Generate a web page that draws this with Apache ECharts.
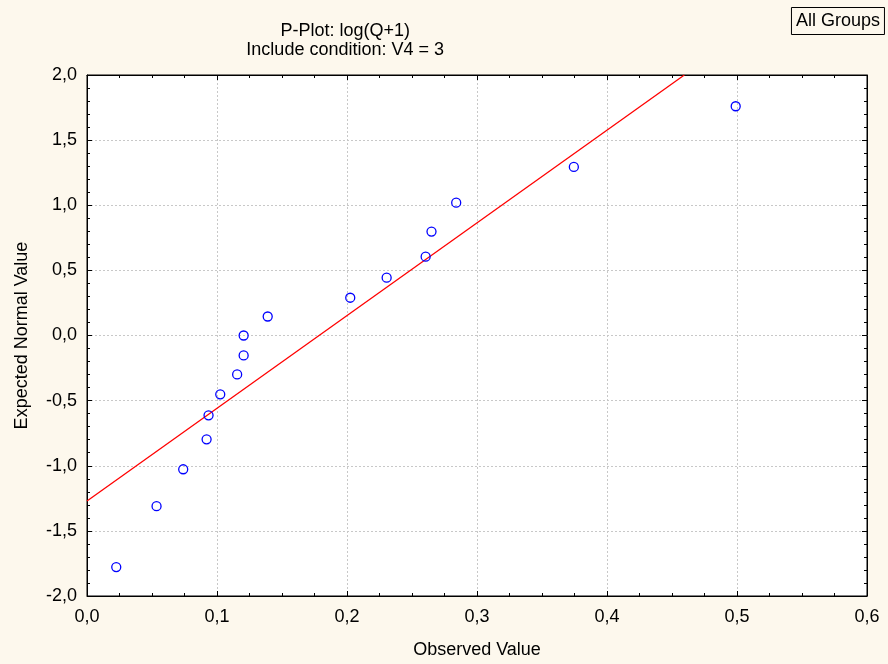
<!DOCTYPE html>
<html>
<head>
<meta charset="utf-8">
<script src="https://cdn.jsdelivr.net/npm/echarts@6/dist/echarts.min.js"></script>
<style>
html,body{margin:0;padding:0;background:#fdf8ed;}
#chart{width:888px;height:664px;}
</style>
</head>
<body>
<div id="chart"></div>
<script>
// Observed values (x) and expected normal values (y)
var observed = [0.0225, 0.0535, 0.074, 0.092, 0.0935, 0.1025, 0.1155, 0.1205, 0.1205, 0.1390, 0.2025, 0.2305, 0.2605, 0.2650, 0.2840, 0.3745, 0.4990];
var expected = [-1.778, -1.310, -1.027, -0.797, -0.613, -0.452, -0.299, -0.153, 0.000, 0.146, 0.290, 0.444, 0.605, 0.798, 1.020, 1.294, 1.760];
// Fitted reference line endpoints
var fitX = [0.0, 0.4595];
var fitY = [-1.27, 2.0];
// Axis tick settings
var xTicks = {min: 0, max: 0.6, interval: 0.1};
var yTicks = {min: -2, max: 2, interval: 0.5};

var font = 'Liberation Sans, Arial, sans-serif';
var fs = 18;
function fmt(v){ return v.toFixed(1).replace('.', ','); }

var chart = echarts.init(document.getElementById('chart'), null, {renderer: 'canvas'});
var tickCommon = {show: true, inside: true, length: 5, lineStyle: {color: '#000', width: 1}};
var minorCommon = {show: true, length: 3, lineStyle: {color: '#000', width: 1}};
var split = {show: true, lineStyle: {color: '#c8c8c8', type: [2, 2], width: 1}};
var axLine = {show: true, onZero: false, lineStyle: {color: '#000', width: 1}};

chart.setOption({
  backgroundColor: '#fdf8ed',
  animation: false,
  title: [
    {text: 'P-Plot: log(Q+1)\nInclude condition: V4 = 3', left: 'center', top: 17,
     textAlign: 'center',
     textStyle: {fontFamily: font, fontSize: fs, fontWeight: 'normal', color: '#000', lineHeight: 19}},
    {text: 'All Groups', right: 3, top: 7, borderColor: '#000', borderWidth: 1, padding: [5, 5, 4, 5],
     backgroundColor: '#fdf8ed',
     textStyle: {fontFamily: font, fontSize: fs, fontWeight: 'normal', color: '#000', lineHeight: 19}}
  ],
  grid: {left: 87, right: 21, top: 75, bottom: 67, show: true, backgroundColor: '#fff', borderColor: '#000', borderWidth: 1},
  xAxis: [
    {type: 'value', min: xTicks.min, max: xTicks.max, interval: xTicks.interval, position: 'bottom',
     name: 'Observed Value', nameLocation: 'middle', nameGap: 45,
     nameTextStyle: {fontFamily: font, fontSize: fs, color: '#000'},
     axisLine: axLine,
     axisTick: tickCommon, minorTick: Object.assign({splitNumber: 4}, minorCommon),
     splitLine: split,
     axisLabel: {formatter: fmt, fontFamily: font, fontSize: fs, color: '#000', margin: 12}},
    {type: 'value', min: xTicks.min, max: xTicks.max, interval: xTicks.interval, position: 'top',
     axisLine: axLine,
     axisTick: tickCommon, minorTick: Object.assign({splitNumber: 4}, minorCommon),
     splitLine: {show: false}, axisLabel: {show: false}}
  ],
  yAxis: [
    {type: 'value', min: yTicks.min, max: yTicks.max, interval: yTicks.interval, position: 'left',
     name: 'Expected Normal Value', nameLocation: 'middle', nameGap: 56,
     nameTextStyle: {fontFamily: font, fontSize: fs, color: '#000'},
     axisLine: axLine,
     axisTick: tickCommon, minorTick: Object.assign({splitNumber: 5}, minorCommon),
     splitLine: split,
     axisLabel: {formatter: fmt, fontFamily: font, fontSize: fs, color: '#000', margin: 10}},
    {type: 'value', min: yTicks.min, max: yTicks.max, interval: yTicks.interval, position: 'right',
     axisLine: axLine,
     axisTick: tickCommon, minorTick: Object.assign({splitNumber: 5}, minorCommon),
     splitLine: {show: false}, axisLabel: {show: false}}
  ],
  series: [
    {type: 'line', xAxisIndex: 0, yAxisIndex: 0,
     data: fitX.map(function(x, i){ return [x, fitY[i]]; }), showSymbol: false, symbol: 'none',
     lineStyle: {color: '#ff0000', width: 1.3}, silent: true, z: 2},
    {type: 'scatter', xAxisIndex: 0, yAxisIndex: 0,
     data: observed.map(function(x, i){ return [x, expected[i]]; }),
     symbol: 'circle', symbolSize: 9,
     itemStyle: {color: 'rgba(255,255,255,0)', borderColor: '#0000ff', borderWidth: 1.3, opacity: 1}, z: 3}
  ]
});
</script>
</body>
</html>
